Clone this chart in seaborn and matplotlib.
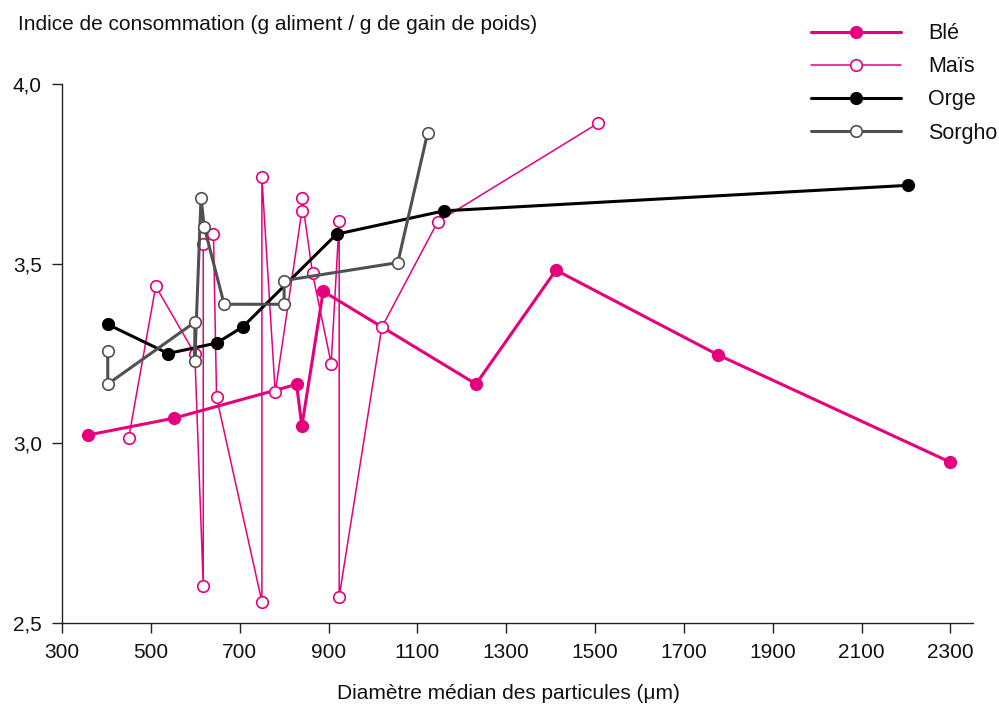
import matplotlib
matplotlib.use("Agg")
import matplotlib.pyplot as plt
import seaborn as sns
import pandas as pd

sns.set_theme(style="white")
plt.rcParams['font.family'] = ['Liberation Sans', 'DejaVu Sans']

# Data (drawing order kept as in the reference)
ble_x = [358, 552, 828, 840, 888, 1232, 1412, 1777, 2299]
ble_y = [3.023, 3.070, 3.164, 3.048, 3.423, 3.165, 3.482, 3.246, 2.948]

mais_x = [450, 511, 599, 618, 618, 641, 648, 750, 750, 780, 840, 840, 864, 906, 924, 924, 1020, 1146, 1507]
mais_y = [3.014, 3.437, 3.249, 2.603, 3.554, 3.582, 3.128, 2.559, 3.740, 3.142,
          3.647, 3.684, 3.473, 3.222, 3.619, 2.573, 3.323, 3.617, 3.891]

orge_x = [403, 539, 648, 707, 918, 1160, 2205]
orge_y = [3.331, 3.250, 3.279, 3.324, 3.582, 3.647, 3.718]

sorgho_x = [403, 403, 599, 599, 613, 620, 665, 800, 800, 1056, 1123]
sorgho_y = [3.258, 3.165, 3.337, 3.229, 3.684, 3.603, 3.387, 3.387, 3.453, 3.503, 3.863]

x_ticks = [300, 500, 700, 900, 1100, 1300, 1500, 1700, 1900, 2100, 2300]
y_ticks = [2.5, 3.0, 3.5, 4.0]
y_ticklabels = ["2,5", "3,0", "3,5", "4,0"]

MAG = "#E6007E"
GRAY = "#505050"

fig = plt.figure(figsize=(9.99, 7.05), dpi=100)
ax = fig.add_axes([62/999, 1-623/705, 910.6/999, (623-84)/705])

series = [
    ("Blé", ble_x, ble_y, MAG, MAG, 2.2, 8.3),
    ("Maïs", mais_x, mais_y, MAG, "white", 1.1, 8.3),
    ("Orge", orge_x, orge_y, "black", "black", 2.2, 8.3),
    ("Sorgho", sorgho_x, sorgho_y, GRAY, "white", 2.2, 8.3),
]
for name, xs, ys, col, mfc, lw, ms in series:
    df = pd.DataFrame({"x": xs, "y": ys})
    sns.lineplot(data=df, x="x", y="y", sort=False, estimator=None, ax=ax,
                 color=col, lw=lw, marker="o", markersize=ms, markerfacecolor=mfc,
                 markeredgecolor=col, markeredgewidth=1.2, label=name,
                 clip_on=False, zorder=3)

ax.set_xlim(300, 2350)
ax.set_ylim(2.5, 4.0)
ax.set_xticks(x_ticks)
ax.set_xticklabels([str(t) for t in x_ticks])
ax.set_yticks(y_ticks)
ax.set_yticklabels(y_ticklabels)
ax.tick_params(axis="both", direction="out", length=7.5, width=1, color="#222222",
               labelsize=15, pad=7, labelcolor="#111111")
ax.tick_params(axis="x", bottom=True)
ax.tick_params(axis="y", left=True)
for s in ["top", "right"]:
    ax.spines[s].set_visible(False)
for s in ["left", "bottom"]:
    ax.spines[s].set_color("#222222")
    ax.spines[s].set_linewidth(1.0)
ax.set_xlabel("Diamètre médian des particules (μm)", fontsize=15, labelpad=13, color="#111111")
ax.xaxis.set_label_coords(0.49, -0.113)
ax.set_ylabel("")
fig.text(18/999, 1-25/705, "Indice de consommation (g aliment / g de gain de poids)",
         fontsize=15, va="center", ha="left", color="#111111")

leg = ax.legend(loc="upper left", bbox_to_anchor=(792/999, 1-4/705),
                bbox_transform=fig.transFigure, frameon=False, fontsize=15.5,
                handlelength=4.14, handletextpad=1.3, labelspacing=0.56)
for t in leg.get_texts():
    t.set_color("#111111")

fig.savefig("out.png", dpi=100)
